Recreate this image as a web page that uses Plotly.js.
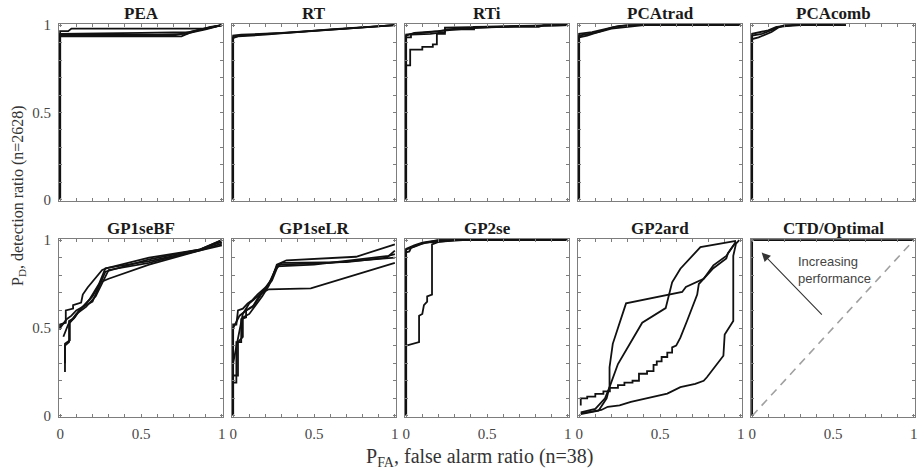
<!DOCTYPE html>
<html><head><meta charset="utf-8">
<script src="https://cdn.plot.ly/plotly-3.0.1.min.js"></script>
<style>html,body{margin:0;padding:0;background:#fff}#chart{width:919px;height:476px}</style>
</head><body><div id="chart"></div>
<script>
const panelTitles = ['PEA','RT','RTi','PCAtrad','PCAcomb','GP1seBF','GP1seLR','GP2se','GP2ard','CTD/Optimal'];
const tickVals = [0,0.5,1];
const tickText = ['0','0.5','1'];
const minorStep = 0.1;
const xTitle = 'P<sub>FA</sub>, false alarm ratio (n=38)';
const yTitle = 'P<sub>D</sub>, detection ratio (n=2628)';
const arrowText = 'Increasing<br>performance';

// PEA
const peaX = [[0,0,0.05,0.07,0.9,0.95,1],[0,0,0.6,0.78,0.85,0.93,1],[0,0,0.75,0.8,0.9,1],[0,0,0.7,0.79,0.92,1],[0,0,0.5,0.8,0.95,1]];
const peaY = [[0,0.965,0.965,0.98,0.98,0.99,1],[0,0.945,0.945,0.95,0.97,0.99,1],[0,0.935,0.935,0.955,0.975,1],[0,0.94,0.94,0.96,0.985,1],[0,0.95,0.955,0.96,0.99,1]];
// RT
const rtX = [[0,0,0.03,0.2,0.6,1],[0,0,0.05,0.3,0.7,1],[0,0,0.04,0.4,1]];
const rtY = [[0,0.93,0.935,0.945,0.975,1],[0,0.94,0.945,0.955,0.98,1],[0,0.925,0.94,0.96,1]];
// RTi
const rtiX = [[0,0,0.025,0.025,0.1,0.1,0.165,0.165,0.19,0.19,0.24,0.24,0.42,0.42,0.8,1],[0,0,0.03,0.03,0.15,0.24,0.24,0.5,0.8,1],[0,0,0.05,0.2,0.3,0.6,0.82,0.85,1],[0,0,0.1,0.25,0.45,0.7,1]];
const rtiY = [[0,0.77,0.77,0.86,0.86,0.875,0.875,0.89,0.89,0.95,0.95,0.975,0.975,0.99,0.995,1],[0,0.93,0.93,0.945,0.95,0.96,0.985,0.99,0.995,1],[0,0.94,0.955,0.965,0.98,0.99,0.99,1,1],[0,0.945,0.955,0.97,0.985,0.995,1]];
// PCAtrad
const pcatX = [[0,0,0.05,0.1,0.15,0.2,0.25,0.35,1],[0,0,0.08,0.15,0.22,0.3,1],[0,0,0.12,0.2,0.4,1]];
const pcatY = [[0,0.93,0.94,0.955,0.97,0.985,0.995,1,1],[0,0.95,0.96,0.975,0.99,1,1],[0,0.94,0.96,0.98,1,1]];
// PCAcomb
const pcacX = [[0,0,0.04,0.08,0.12,0.16,0.2,0.58],[0,0,0.06,0.12,0.16,0.25,0.58],[0,0,0.1,0.15,0.3,0.55]];
const pcacY = [[0,0.92,0.93,0.945,0.96,0.985,1,1],[0,0.94,0.95,0.97,0.99,1,1],[0,0.95,0.97,0.99,1,1]];
// GP1seBF
const bfX = [[0,0,0.035,0.035,0.08,0.08,0.13,0.14,0.17,0.26,0.29,0.55,0.86,1],[0.03,0.03,0.055,0.055,0.085,0.11,0.15,0.2,0.25,0.3,0.55,0.86,1],[0.03,0.03,0.06,0.06,0.09,0.12,0.18,0.24,0.28,0.55,0.86,1],[0,0.04,0.07,0.1,0.14,0.2,0.28,0.55,0.86,1],[0.02,0.05,0.1,0.16,0.22,0.3,0.55,0.85,1]];
const bfY = [[0.49,0.52,0.53,0.6,0.61,0.63,0.645,0.69,0.73,0.83,0.84,0.9,0.945,1],[0.25,0.4,0.42,0.54,0.555,0.59,0.63,0.68,0.76,0.78,0.86,0.94,0.97],[0.3,0.41,0.43,0.53,0.56,0.6,0.66,0.75,0.84,0.88,0.94,0.98],[0.5,0.55,0.57,0.6,0.62,0.65,0.82,0.89,0.945,0.99],[0.45,0.52,0.58,0.62,0.68,0.83,0.87,0.94,1]];
// GP1seLR
const lrX = [[0,0,0.02,0.03,0.06,0.09,0.12,0.15,0.2,0.24,0.27,0.33,0.76,1],[0,0,0.02,0.02,0.05,0.05,0.08,0.08,0.13,0.15,0.18,0.22,0.48,1],[0,0,0.03,0.03,0.06,0.06,0.1,0.14,0.18,0.22,0.25,0.27,0.5,0.96,1],[0,0,0.04,0.08,0.12,0.16,0.22,0.26,0.3,0.7,0.95,1],[0,0.03,0.06,0.1,0.14,0.19,0.24,0.28,0.6,1]];
const lrY = [[0,0.52,0.52,0.6,0.61,0.64,0.66,0.69,0.73,0.78,0.86,0.885,0.905,0.975],[0,0.19,0.19,0.42,0.42,0.55,0.56,0.6,0.63,0.66,0.7,0.72,0.725,0.87],[0,0.23,0.23,0.42,0.45,0.56,0.58,0.63,0.68,0.74,0.8,0.85,0.86,0.91,0.92],[0,0.5,0.57,0.6,0.62,0.68,0.75,0.83,0.87,0.875,0.9,0.94],[0.3,0.45,0.58,0.64,0.67,0.71,0.77,0.86,0.87,0.9]];
// GP2se
const seX = [[0,0,0.08,0.08,0.1,0.11,0.13,0.13,0.16,0.16,0.2,0.3,1],[0,0,0.02,0.03,0.06,0.1,0.15,0.2,1],[0,0,0.04,0.08,0.12,0.25,0.35,1],[0,0,0.05,0.1,0.2,1]];
const seY = [[0,0.4,0.42,0.57,0.58,0.63,0.65,0.68,0.69,0.975,0.99,1,1],[0,0.93,0.935,0.955,0.965,0.98,0.99,1,1],[0,0.945,0.96,0.975,0.985,0.995,1,1],[0,0.95,0.97,0.985,1,1]];
// GP2ard
const ardX = [[0.01,0.1,0.16,0.188,0.188,0.208,0.24,0.27,0.28,0.29,0.637,0.66,0.77,0.83,0.91,0.97],[0.01,0.12,0.17,0.188,0.24,0.39,0.535,0.575,0.626,0.75,0.97],[0.01,0.01,0.05,0.05,0.1,0.1,0.15,0.15,0.19,0.19,0.24,0.24,0.28,0.28,0.33,0.33,0.37,0.37,0.42,0.42,0.46,0.46,0.48,0.48,0.51,0.51,0.545,0.545,0.575,0.575,0.6,0.626,0.667,0.73,0.74,0.83,0.91,0.92,0.97],[0.01,0.137,0.177,0.25,0.32,0.42,0.545,0.626,0.718,0.77,0.79,0.892,0.9,0.953,0.953,0.97,0.99]];
const ardY = [[0.02,0.04,0.1,0.164,0.277,0.41,0.5,0.585,0.62,0.64,0.705,0.733,0.78,0.856,0.91,0.99],[0.01,0.03,0.1,0.164,0.295,0.53,0.613,0.76,0.837,0.96,0.995],[0.06,0.1,0.1,0.11,0.11,0.125,0.125,0.14,0.14,0.16,0.16,0.175,0.175,0.19,0.19,0.2,0.2,0.24,0.24,0.255,0.255,0.29,0.29,0.31,0.31,0.335,0.335,0.36,0.36,0.39,0.4,0.445,0.54,0.69,0.75,0.84,0.895,0.925,0.99],[0.015,0.034,0.052,0.06,0.08,0.1,0.127,0.164,0.183,0.2,0.22,0.342,0.463,0.54,0.91,0.98,1]];
// CTD / Optimal
const ctdX = [[0,0,1]];
const ctdY = [[0,1,1]];
const chanceX = [0,1];
const chanceY = [0,1];
// arrow (tail -> head) and label position in panel coordinates
const arrowTail = [0.44,0.567];
const arrowHead = [0.059,0.929];
const arrowLabelPos = [0.27,0.83];

const panelX = [peaX,rtX,rtiX,pcatX,pcacX,bfX,lrX,seX,ardX,ctdX];
const panelY = [peaY,rtY,rtiY,pcatY,pcacY,bfY,lrY,seY,ardY,ctdY];

const W=919,H=476;
const colLeft=[59,232,405,578,751], pw=164;
const rowTB=[[24,201],[239,417]];
const serif='"Liberation Serif", "Times New Roman", serif';
const axColor='#7d7d7d';

const traces=[];
const layout={width:W,height:H,margin:{l:0,r:0,t:0,b:0},showlegend:false,
  paper_bgcolor:'#fff',plot_bgcolor:'#fff',annotations:[],shapes:[]};

function axisBase(showLabels, standoff){
  return {tickvals:tickVals,ticktext:tickText,showticklabels:showLabels,ticks:'inside',ticklen:3,
    tickcolor:axColor,showline:true,linecolor:axColor,linewidth:1,mirror:'ticks',
    showgrid:false,zeroline:false,ticklabelstandoff:standoff,
    minor:{dtick:minorStep,tick0:0,ticks:'inside',ticklen:3,tickcolor:axColor,showgrid:false},
    tickfont:{family:serif,size:15,color:'#474747'}};
}

for(let i=0;i<10;i++){
  const r=Math.floor(i/5), c=i%5;
  const xa='x'+(i+1), ya='y'+(i+1);
  const xk='xaxis'+(i===0?'':(i+1)), yk='yaxis'+(i===0?'':(i+1));
  const l=colLeft[c];
  layout[xk]=Object.assign(axisBase(r===1,3),{domain:[l/W,(l+pw)/W],anchor:ya,range:[-0.007,1.007]});
  layout[yk]=Object.assign(axisBase(c===0,4),{domain:[1-rowTB[r][1]/H,1-rowTB[r][0]/H],anchor:xa,range:[-0.006,1.006]});
  if(i===9){
    traces.push({x:chanceX,y:chanceY,xaxis:xa,yaxis:ya,mode:'lines',
      line:{color:'#a0a0a0',width:1.6,dash:'8px,6px'},hoverinfo:'skip'});
  }
  const xs=panelX[i], ys=panelY[i];
  for(let k=0;k<xs.length;k++){
    traces.push({x:xs[k],y:ys[k],xaxis:xa,yaxis:ya,mode:'lines',
      line:{color:'#111',width:1.8},hoverinfo:'skip'});
  }
  layout.annotations.push({xref:'paper',yref:'paper',x:(l+pw/2)/W,
    y:1-(r===0?13:228)/H,xanchor:'center',yanchor:'middle',showarrow:false,
    text:'<b>'+panelTitles[i]+'</b>',font:{family:serif,size:17,color:'#1a1a1a'}});
}
// arrow in CTD/Optimal
layout.annotations.push({xref:'x10',yref:'y10',axref:'x10',ayref:'y10',
  x:arrowHead[0],y:arrowHead[1],ax:arrowTail[0],ay:arrowTail[1],text:'',
  showarrow:true,arrowhead:2,arrowsize:1.6,arrowwidth:1.1,arrowcolor:'#333'});
layout.annotations.push({xref:'x10',yref:'y10',x:arrowLabelPos[0],y:arrowLabelPos[1],
  xanchor:'left',yanchor:'middle',align:'left',showarrow:false,text:arrowText,
  font:{family:'"Liberation Sans", Arial, sans-serif',size:13,color:'#444'}});
// axis titles
layout.annotations.push({xref:'paper',yref:'paper',x:480/W,y:1-457/H,xanchor:'center',
  yanchor:'middle',showarrow:false,text:xTitle,font:{family:serif,size:20,color:'#333'}});
layout.annotations.push({xref:'paper',yref:'paper',x:18/W,y:1-196/H,xanchor:'center',
  yanchor:'middle',showarrow:false,textangle:-90,text:yTitle,font:{family:serif,size:16,color:'#333'}});

Plotly.newPlot('chart',traces,layout,{staticPlot:true,displayModeBar:false});
</script></body></html>
